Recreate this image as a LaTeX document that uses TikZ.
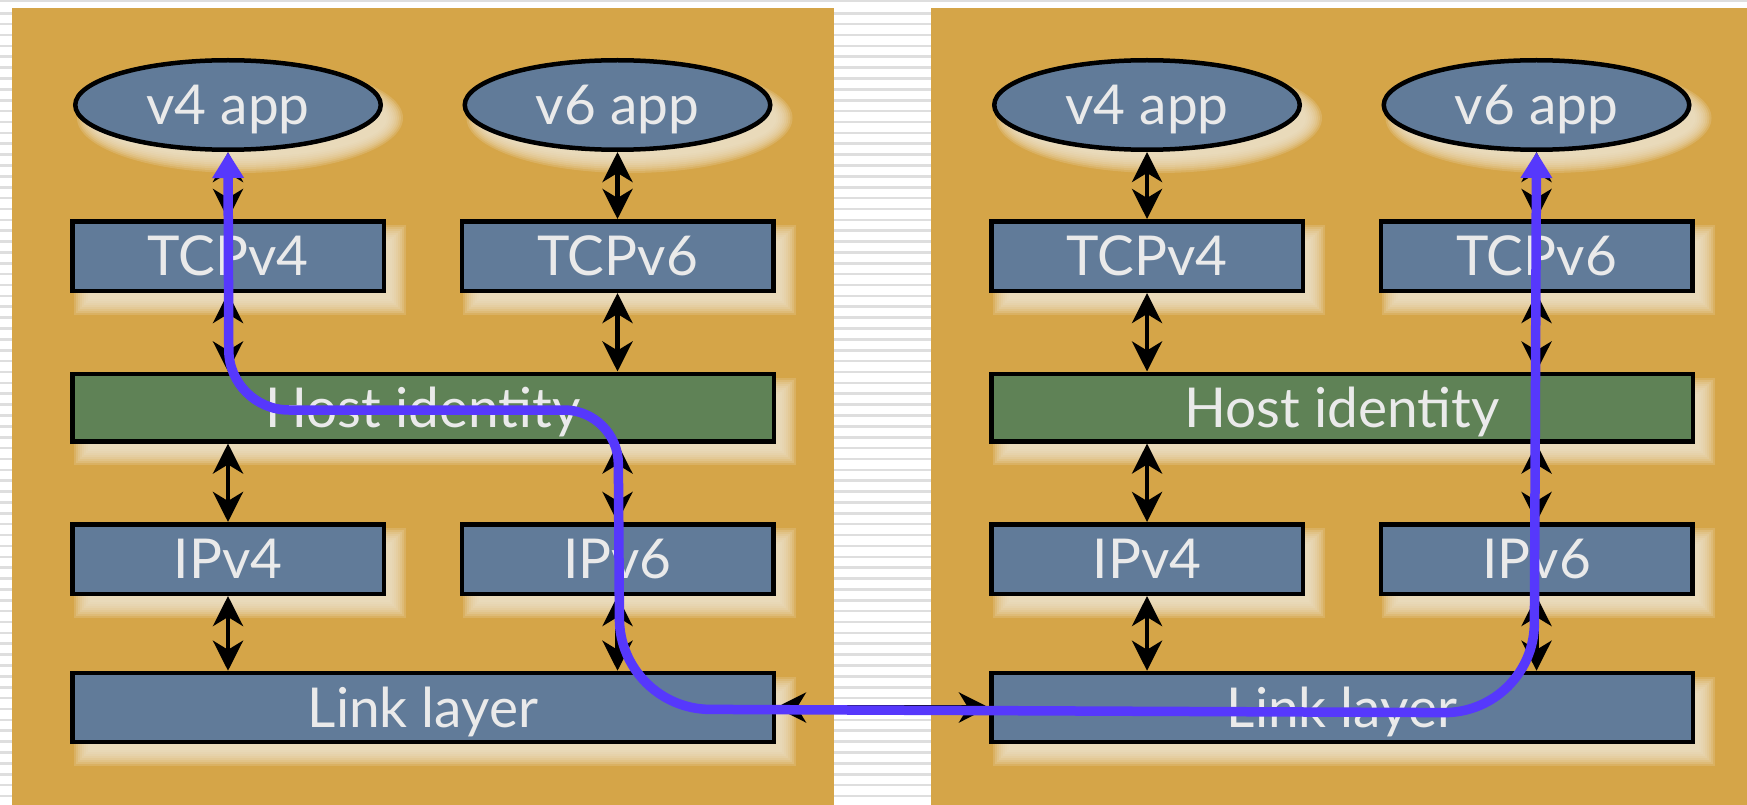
\documentclass[tikz,border=0pt]{standalone}
\usepackage{fontspec}
\setmainfont{Lato}
\usetikzlibrary{arrows.meta,shapes.geometric}

\definecolor{panelgold}{RGB}{213,165,72}
\definecolor{layerblue}{RGB}{97,123,153}
\definecolor{layergreen}{RGB}{95,130,86}
\definecolor{shadowcream}{RGB}{238,228,206}
\definecolor{labelgray}{RGB}{234,234,234}
\definecolor{stripegray}{RGB}{222,222,222}
\definecolor{pathblue}{RGB}{86,56,252}

\tikzset{
  layer/.style={draw=black, line width=4.5pt, fill=layerblue, inner sep=0pt,
    text=labelgray, font=\fontsize{55}{60}\selectfont,
    text height=39pt, text depth=0pt},
  narrowlayer/.style={layer, minimum width=311.5pt, minimum height=69.5pt},
  widelayer/.style={layer, minimum width=701.5pt, minimum height=69pt},
  hostlayer/.style={widelayer, fill=layergreen, minimum height=67.5pt},
  applayer/.style={layer, ellipse, minimum width=305.5pt, minimum height=89.5pt},
  bothways/.style={line width=4.5pt,
    {Stealth[length=30pt,width=30pt,inset=9pt]}-{Stealth[length=30pt,width=30pt,inset=9pt]}},
  route/.style={draw=pathblue, line width=9.5pt, line join=round,
    {Triangle[length=26pt,width=30pt]}-{Triangle[length=26pt,width=30pt]}},
}

% soft cream shadow below and right of a box (outer corners given)
\newcommand\boxhaze[4]{%
  \foreach \g in {0,...,8}{%
    \fill[shadowcream,opacity=.2] ({#1+4+2*\g},{#2+6+2*\g}) rectangle ({#3+20-2*\g},{#4+22-2*\g});}}
% the same for an ellipse (centre, radii)
\newcommand\ellhaze[4]{%
  \foreach \g in {0,...,8}{%
    \fill[shadowcream,opacity=.2] ({#1+12},{#2+13}) ellipse [x radius={#3+8-2*\g}, y radius={#4+8-2*\g}];}}

\begin{document}
\begin{tikzpicture}[x=1pt,y=-1pt]
\useasboundingbox (0,0) rectangle (1747,805);

% striped page behind the panels
\fill[white] (0,0) rectangle (1747,805);
\fill[stripegray] (0,0) rectangle (1747,2.5);
\foreach \k in {0,...,73}
  \fill[stripegray] (0,{12+10.87*\k}) rectangle (1747,{14.6+10.87*\k});

% the two host panels
\fill[panelgold] (12,8) rectangle (834,805);
\fill[panelgold] (931,8) rectangle (1747,805);

% one protocol stack per host
\foreach \p/\dx in {L/0,R/919}{
  \begin{scope}[xshift=\dx]
    \ellhaze{228}{105}{155}{47}
    \ellhaze{617.5}{105}{155}{47}
    \boxhaze{70}{219}{386}{293}
    \boxhaze{459}{219}{776}{293}
    \boxhaze{70}{372}{776}{443}
    \boxhaze{70}{522}{386}{596}
    \boxhaze{459}{522}{776}{596}
    \boxhaze{70}{671}{776}{744}

    \node[applayer] (\p4app) at (228,105) {v4 app};
    \node[applayer] (\p6app) at (617.5,105) {v6 app};
    \node[narrowlayer] (\p tcp4) at (228,256) {TCPv4};
    \node[narrowlayer] (\p tcp6) at (617.5,256) {TCPv6};
    \node[hostlayer] (\p host) at (423,407.5) {Host identity};
    \node[narrowlayer] (\p ip4) at (228,559) {IPv4};
    \node[narrowlayer] (\p ip6) at (617.5,559) {IPv6};
    \node[widelayer] (\p link) at (423,707.5) {Link layer};

    \draw[bothways] (\p4app.south) -- (\p tcp4.north);
    \draw[bothways] (\p6app.south) -- (\p tcp6.north);
    \draw[bothways] (\p tcp4.south) -- (\p tcp4.south |- \p host.north);
    \draw[bothways] (\p tcp6.south) -- (\p tcp6.south |- \p host.north);
    \draw[bothways] (\p ip4.north |- \p host.south) -- (\p ip4.north);
    \draw[bothways] (\p ip6.north |- \p host.south) -- (\p ip6.north);
    \draw[bothways] (\p ip4.south) -- (\p ip4.south |- \p link.north);
    \draw[bothways] (\p ip6.south) -- (\p ip6.south |- \p link.north);
  \end{scope}
}

% wire between the two link layers
\draw[bothways] (Llink.east) -- (Rlink.west);

% end-to-end path from the v4 application to the v6 application
\draw[route] (L4app.south) [rounded corners=60pt] -- (229,410)
  [rounded corners=54pt] -- (618,410)
  [rounded corners=90pt] -- (620,709)
  -- (1534,713) -- (R6app.south);
\end{tikzpicture}
\end{document}
